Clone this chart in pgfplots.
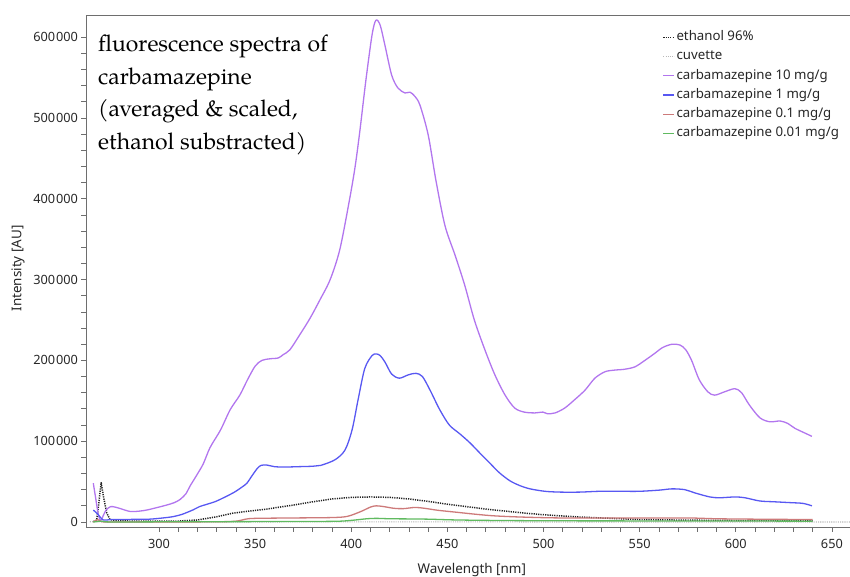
\documentclass[border=0pt]{standalone}
\usepackage{fontspec}
\setmainfont{Noto Sans}
\newfontfamily\pal{TeX Gyre Pagella}
\usepackage{pgfplots}
\pgfplotsset{compat=1.18}
\definecolor{axisgray}{RGB}{110,110,110}
\definecolor{labelblack}{RGB}{38,38,38}
\definecolor{cten}{RGB}{178,118,238}
\definecolor{cone}{RGB}{88,88,242}
\definecolor{cpoint}{RGB}{205,122,122}
\definecolor{cmilli}{RGB}{96,186,96}
\definecolor{ceth}{RGB}{35,35,35}
\definecolor{ccuv}{RGB}{185,185,185}
\begin{document}
\begin{tikzpicture}
\begin{axis}[
  scale only axis, width=764bp, height=512bp,
  at={(0,0)}, anchor=south west,
  xmin=262, xmax=659.4, ymin=-6200, ymax=627500,
  axis lines*=left,
  axis line style={draw=axisgray, line width=0.9bp},
  tick align=outside,
  tick style={draw=axisgray, line width=0.8bp},
  major tick length=4.5bp, minor tick length=4.5bp,
  xtick={300,350,...,650}, minor x tick num=4,
  ytick={0,100000,...,600000}, minor y tick num=4,
  scaled y ticks=false,
  /pgf/number format/assume math mode=true,
  yticklabel style={/pgf/number format/fixed, /pgf/number format/1000 sep={\kern0.07em}},
  xticklabel style={yshift=-4bp},
  tick label style={font=\fontsize{12.8}{15}\selectfont, text=labelblack},
  xlabel={Wavelength [nm]},
  ylabel={Intensity [AU]},
  label style={font=\fontsize{13.5}{16}\selectfont, text=labelblack},
  xlabel style={at={(axis description cs:0.505,0)}, anchor=center, yshift=-43bp},
  ylabel style={at={([xshift=-68bp]axis description cs:0,0.505)}, anchor=center, rotate=0},
  legend style={at={(axis description cs:0.7546,0.9707)}, anchor=north west,
    draw=none, fill=none, inner sep=0pt, row sep=4.7bp,
    font=\fontsize{13.3}{16}\selectfont, text=labelblack,
    nodes={inner sep=1.5bp, text height=9bp, text depth=2.5bp}},
  legend cell align=left,
  legend image code/.code={\draw[#1, line width=1.3bp] (0bp,0bp) -- (11bp,0bp);},
  every axis plot/.append style={line width=1.3bp, line join=round},
  extra description/.code={\draw[axisgray, line width=0.9bp] (0,1) -- (1,1);},
]
% ethanol 96%
\addplot[ceth, line width=1.5bp, dash pattern=on 1.2bp off 1.1bp] coordinates {
(265.8,500) (267.5,2000) (268.5,20000) (269.9,48600) (271.2,30000) (272.8,11000) (274.5,3000) (278,1500) (290,1000) (300,1000) (310,1200) (320,2500) (330,6500) (338.5,11000) (347,13500) (356,16000) (363,18500) (370,21000) (380,25000) (390,28500) (400,30500) (410,31000) (420,30500) (430,28500) (440,25500) (450,22000) (460,19000) (470,16000) (480,13500) (490,11000) (500,9000) (510,7400) (520,6000) (530,5000) (540,4000) (550,3000) (570,2400) (600,1800) (620,1600) (640,1500)
};
\addlegendentry{ethanol 96\%}
% cuvette
\addplot[ccuv, line width=1.2bp, dash pattern=on 1.1bp off 1.1bp] coordinates {
(264,200) (300,100) (350,100) (400,150) (450,150) (500,100) (550,100) (600,100) (665,100)
};
\addlegendentry{cuvette}
% 10 mg/g
\addplot[cten, smooth, tension=0.5] coordinates {
(265.8,48000) (267,30000) (268.5,8000) (269.7,2000) (271,8000) (272.5,15000) (274.8,19000) (277,18500) (280,16500) (285,13000) (290,13500) (294,15000) (300,18500) (304,21000) (308,24000) (311,28000) (314,35000) (316,44000) (319.6,58000) (323,72000) (326.5,92000) (332,114000) (337,139000) (342,157000) (346,176000) (350,193000) (353.5,200000) (357.7,202000) (362,203000) (364.5,207000) (368,213000) (373,231000) (378.5,252000) (383.7,275000) (389,300000) (394,337000) (399,398000) (402,440000) (404.5,485000) (407.6,547000) (410.8,603000) (412.8,621000) (415,615000) (417.5,590000) (421,553000) (424.3,537000) (428,531000) (430.5,532000) (433,527000) (435.7,516000) (440,479000) (444,423000) (448.7,367000) (454,330000) (459,293000) (464,250000) (469.5,213000) (474.7,182000) (480,157000) (485,141000) (490,136000) (495.5,135000) (499.7,136000) (502,134000) (506,135000) (511,141000) (516,151000) (521.5,163000) (526.7,178000) (532,186000) (537,188000) (542,189000) (547.5,192000) (552.7,200000) (558,209000) (562,216000) (566.8,220000) (571,219000) (574,213000) (577,200000) (581,176000) (585.5,161000) (589,157000) (594,161000) (599.5,165000) (603,160000) (607,145000) (612.5,129000) (617.7,124000) (623,125000) (627,122000) (630.7,116000) (636,110000) (639.6,106000)
};
\addlegendentry{carbamazepine 10 mg/g}
% 1 mg/g
\addplot[cone, smooth, tension=0.5] coordinates {
(265.8,14800) (268,10000) (271,2500) (275,3000) (285,3200) (295,3500) (302,5000) (307,6500) (312,9500) (317.7,15000) (321,19000) (325,22000) (330,26000) (338.5,36000) (343,43000) (345.7,48000) (348,56000) (351,66000) (353,70000) (356,70500) (360,68500) (365,68000) (373,68500) (380,69000) (384,70000) (391.5,77000) (396.7,89000) (400.4,114000) (403.5,151000) (407,190000) (410.8,206000) (413,208000) (415,206000) (417.5,198000) (421,183000) (425,178000) (429.5,182000) (433.6,184000) (437,180000) (441,163000) (446,139000) (451,120000) (456.5,109000) (461.7,98000) (467,85000) (472,73000) (477,61000) (482.5,51000) (487.7,45000) (493,41000) (500.7,38000) (508.5,37000) (519,37000) (529,38000) (540,38000) (550,38000) (560.5,39500) (566.8,41000) (573.5,40000) (578.7,36000) (586.5,31000) (591.7,30000) (599.5,31000) (604.7,30000) (612.5,26000) (620,25000) (628,24000) (635,23000) (639.6,20000)
};
\addlegendentry{carbamazepine 1 mg/g}
% 0.1 mg/g
\addplot[cpoint, smooth, tension=0.5] coordinates {
(265.8,0) (268,3000) (270,500) (275,0) (300,0) (330,300) (340,1000) (345,3500) (350,4500) (370,5000) (390,5500) (398,7000) (405,13000) (410,18500) (413,20000) (417,19000) (422,17000) (427,16500) (433,18000) (438,17000) (445,14500) (455,12000) (465,9500) (475,7500) (490,6000) (510,5000) (550,5000) (575,5000) (590,4000) (610,3500) (640,3000)
};
\addlegendentry{carbamazepine 0.1 mg/g}
% 0.01 mg/g
\addplot[cmilli, smooth, tension=0.5] coordinates {
(265.8,0) (270,1000) (275,0) (300,200) (350,500) (390,800) (400,2000) (408,4000) (413,4500) (420,4000) (430,3800) (440,3500) (455,2500) (480,1800) (520,1400) (580,1300) (640,1000)
};
\addlegendentry{carbamazepine 0.01 mg/g}
\node[anchor=base west, inner sep=0pt, font=\pal\fontsize{23}{28}\selectfont] at ([xshift=12bp,yshift=-37bp]axis description cs:0,1) {fluorescence spectra of};
\node[anchor=base west, inner sep=0pt, font=\pal\fontsize{23}{28}\selectfont] at ([xshift=12bp,yshift=-69.5bp]axis description cs:0,1) {carbamazepine};
\node[anchor=base west, inner sep=0pt, font=\pal\fontsize{23}{28}\selectfont] at ([xshift=12bp,yshift=-102bp]axis description cs:0,1) {(averaged \& scaled,};
\node[anchor=base west, inner sep=0pt, font=\pal\fontsize{23}{28}\selectfont] at ([xshift=12bp,yshift=-134.5bp]axis description cs:0,1) {ethanol substracted)};
\end{axis}
\pgfresetboundingbox
\path (-86bp,-50bp) rectangle (764bp,527bp);
\end{tikzpicture}
\end{document}
